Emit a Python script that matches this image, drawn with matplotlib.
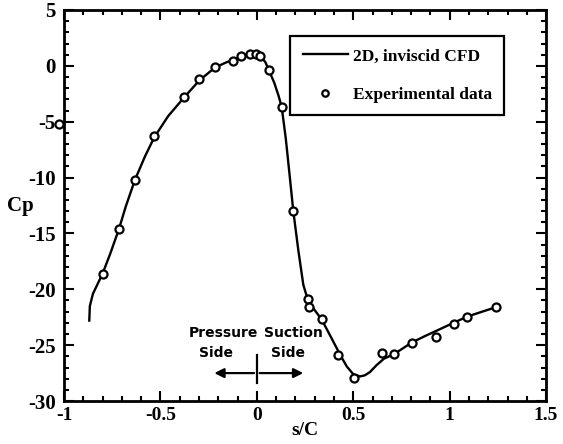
import matplotlib
matplotlib.use("Agg")
import matplotlib.pyplot as plt
from matplotlib.ticker import MultipleLocator

# CFD curve
cfd_x = [-0.869, -0.866, -0.85, -0.80, -0.76, -0.715, -0.68, -0.632, -0.58, -0.532,
         -0.46, -0.376, -0.298, -0.217, -0.16, -0.122, -0.08, -0.04, 0.0, 0.022,
         0.045, 0.06, 0.09, 0.113, 0.129, 0.15, 0.17, 0.189, 0.215, 0.241,
         0.26, 0.28, 0.336, 0.388, 0.43, 0.466, 0.5, 0.535, 0.56, 0.587,
         0.62, 0.66, 0.712, 0.80, 0.87, 0.933, 1.02, 1.09, 1.16, 1.24]
cfd_cp = [-22.8, -21.5, -20.4, -18.6, -16.8, -14.6, -12.6, -10.2, -8.1, -6.4,
          -4.5, -2.8, -1.3, -0.15, 0.3, 0.55, 0.85, 1.0, 1.0, 0.85,
          0.3, -0.3, -1.5, -2.7, -3.7, -6.5, -9.8, -13.0, -16.5, -19.6,
          -20.7, -21.4, -22.7, -24.4, -25.8, -26.9, -27.6, -27.8, -27.7, -27.4,
          -26.8, -26.2, -25.8, -24.8, -24.2, -23.7, -23.0, -22.45, -22.05, -21.6]

# experimental points
exp_x = [-1.024, -0.80, -0.715, -0.632, -0.532, -0.376, -0.298, -0.217, -0.122, -0.08,
         -0.036, -0.005, 0.016, 0.065, 0.129, 0.189, 0.265, 0.272, 0.336, 0.423,
         0.504, 0.648, 0.712, 0.803, 0.927, 1.02, 1.092, 1.24]
exp_cp = [-5.2, -18.6, -14.6, -10.2, -6.3, -2.8, -1.2, -0.1, 0.45, 0.85,
          1.05, 1.05, 0.9, -0.35, -3.7, -13.0, -20.9, -21.6, -22.7, -25.9,
          -27.9, -25.7, -25.8, -24.8, -24.3, -23.1, -22.5, -21.6]

xticks = [-1, -0.5, 0, 0.5, 1, 1.5]
xtick_labels = ["-1", "-0.5", "0", "0.5", "1", "1.5"]
yticks = [5, 0, -5, -10, -15, -20, -25, -30]
ytick_labels = ["5", "0", "-5", "-10", "-15", "-20", "-25", "-30"]

serif = "Liberation Serif"

fig = plt.figure(figsize=(5.63, 4.44), dpi=100)
ax = fig.add_axes([0.1137, 0.0968, 0.8563, 0.8807])

ax.plot(cfd_x, cfd_cp, color="black", lw=1.7, label="2D, inviscid CFD")
ax.plot(exp_x, exp_cp, linestyle="none", marker="o", markersize=5.8,
        markerfacecolor="white", markeredgecolor="black", markeredgewidth=1.6,
        clip_on=False, label="Experimental data")

ax.set_xlim(-1, 1.5)
ax.set_ylim(-30, 5)
ax.set_xticks(xticks)
ax.set_xticklabels(xtick_labels, fontfamily=serif, fontweight="bold", fontsize=14)
ax.set_yticks(yticks)
ax.set_yticklabels(ytick_labels, fontfamily=serif, fontweight="bold", fontsize=15)
ax.xaxis.set_minor_locator(MultipleLocator(0.1))
ax.yaxis.set_minor_locator(MultipleLocator(1))
ax.tick_params(which="both", direction="in", top=True, right=True, width=1.5)
ax.tick_params(which="major", length=7)
ax.tick_params(axis="x", which="major", pad=4)
ax.tick_params(axis="y", which="major", pad=6)
ax.tick_params(which="minor", length=3.5)
for s in ax.spines.values():
    s.set_linewidth(2)

ax.set_xlabel("s/C", fontfamily=serif, fontweight="bold", fontsize=14, labelpad=-1)
ax.set_ylabel("Cp", fontfamily=serif, fontweight="bold", fontsize=15, rotation=0,
              ha="center", va="center")
ax.yaxis.set_label_coords(-0.09, 0.50)

leg = ax.legend(loc="upper right", bbox_to_anchor=(0.913, 0.933), frameon=True,
                fancybox=False, edgecolor="black", facecolor="white", framealpha=1,
                handlelength=2.6, markerscale=0.8,
                prop={"family": serif, "weight": "bold", "size": 12.5},
                borderpad=0.7, labelspacing=1.3, handletextpad=0.3, borderaxespad=0)
leg.get_frame().set_linewidth(1.6)

# pressure / suction side annotation
ann = dict(fontfamily="DejaVu Sans", fontweight="bold", fontsize=10, ha="center",
           va="center")
ax.text(-0.175, -23.9, "Pressure", **ann)
ax.text(-0.21, -25.7, "Side", **ann)
ax.text(0.19, -23.9, "Suction", **ann)
ax.text(0.16, -25.7, "Side", **ann)
ax.annotate("", xy=(-0.235, -27.5), xytext=(0.0, -27.5),
            arrowprops=dict(arrowstyle="-|>", color="black", lw=1.6, mutation_scale=14))
ax.annotate("", xy=(0.255, -27.5), xytext=(0.0, -27.5),
            arrowprops=dict(arrowstyle="-|>", color="black", lw=1.6, mutation_scale=14))
ax.plot([0, 0], [-25.9, -28.4], color="black", lw=1.6)

fig.savefig("out.png", dpi=100)
